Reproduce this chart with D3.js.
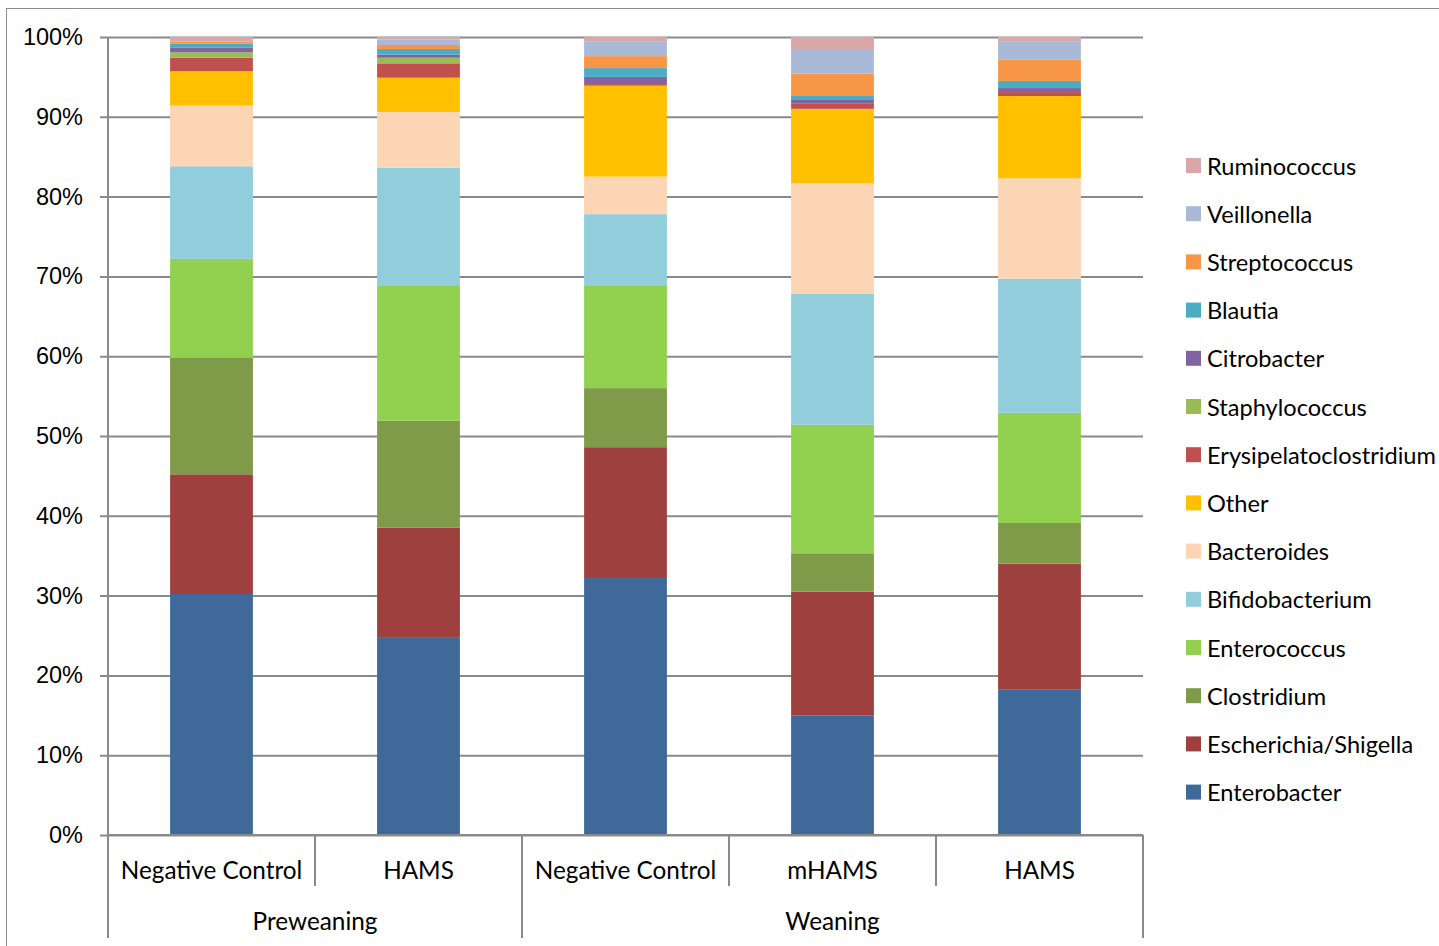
<!DOCTYPE html>
<html>
<head>
<meta charset="utf-8">
<script src="https://cdn.jsdelivr.net/npm/d3@7"></script>
<style>
  html, body { margin: 0; padding: 0; background: #fff; }
  svg { display: block; font-family: Lato, "Open Sans", "Liberation Sans", sans-serif; }
</style>
</head>
<body>
<svg id="chart" width="1439" height="946"></svg>
<script>
// Sample groups (outer) and diets (inner)
const groups = ["Preweaning", "Weaning"];
const categories = [
  { diet: "Negative Control", group: "Preweaning" },
  { diet: "HAMS", group: "Preweaning" },
  { diet: "Negative Control", group: "Weaning" },
  { diet: "mHAMS", group: "Weaning" },
  { diet: "HAMS", group: "Weaning" }
];

// Taxa, bottom of the stack first
const taxa = ["Enterobacter", "Escherichia/Shigella", "Clostridium", "Enterococcus",
  "Bifidobacterium", "Bacteroides", "Other", "Erysipelatoclostridium",
  "Staphylococcus", "Citrobacter", "Blautia", "Streptococcus", "Veillonella", "Ruminococcus"];

// Relative abundance (%) per taxon, one value per category
const enterobacter    = [30.2, 24.8, 32.2, 15.0, 18.2];
const escherichia     = [15.0, 13.7, 16.4, 15.5, 15.8];
const clostridium     = [14.6, 13.4, 7.4, 4.8, 5.1];
const enterococcus    = [12.4, 16.9, 12.8, 16.1, 13.8];
const bifidobacterium = [11.6, 14.8, 9.0, 16.4, 16.8];
const bacteroides     = [7.6, 7.0, 4.7, 13.9, 12.6];
const other           = [4.3, 4.3, 11.4, 9.3, 10.3];
const erysipelato     = [1.7, 1.8, 0.2, 0.7, 0.5];
const staphylococcus  = [0.7, 0.7, 0.0, 0.0, 0.0];
const citrobacter     = [0.6, 0.4, 0.9, 0.5, 0.5];
const blautia         = [0.5, 0.7, 1.1, 0.5, 0.9];
const streptococcus   = [0.2, 0.5, 1.5, 2.7, 2.7];
const veillonella     = [0.1, 0.7, 1.8, 3.1, 2.2];
const ruminococcus    = [0.5, 0.3, 0.6, 1.5, 0.6];

const seriesValues = [enterobacter, escherichia, clostridium, enterococcus, bifidobacterium,
  bacteroides, other, erysipelato, staphylococcus, citrobacter, blautia, streptococcus,
  veillonella, ruminococcus];

const colors = ["#3F6999", "#9E413E", "#7F9A48", "#92D050", "#92CDDC", "#FCD5B5", "#FFC000",
  "#C0504D", "#9BBB59", "#8064A2", "#4BACC6", "#F79646", "#A9B9D7", "#D9A7A7"];

const yTicks = [0, 10, 20, 30, 40, 50, 60, 70, 80, 90, 100];

// Build rows for d3.stack
const rows = categories.map((c, i) => {
  const r = { key: i };
  taxa.forEach((t, j) => { r[t] = seriesValues[j][i]; });
  return r;
});
const stacked = d3.stack().keys(taxa)(rows);

const svg = d3.select("#chart");
const plotLeft = 108, plotRight = 1143, plotTop = 37, plotBottom = 835;

const x = d3.scaleBand().domain(d3.range(categories.length)).range([plotLeft, plotRight]).paddingInner(0.6).paddingOuter(0.3);
const y = d3.scaleLinear().domain([0, 100]).range([plotBottom, plotTop]);
const color = d3.scaleOrdinal().domain(taxa).range(colors);

// Outer chart frame
svg.append("rect").attr("x", 6.5).attr("y", 8.5).attr("width", 1500).attr("height", 1000)
  .attr("fill", "none").attr("stroke", "#8c8c8c").attr("stroke-width", 1);

// Gridlines with ticks
const yAxis = d3.axisLeft(y).tickValues(yTicks).tickSize(plotRight - plotLeft + 8).tickFormat(d => d + "%");
const gy = svg.append("g").attr("transform", `translate(${plotRight},0)`).call(yAxis);
gy.select(".domain").remove();
gy.selectAll(".tick line").attr("stroke", "#8a8a8a").attr("stroke-width", 2);
gy.selectAll(".tick text").attr("font-size", 23.5).attr("fill", "#000").attr("x", -(plotRight - plotLeft) - 25);

// Vertical axis line
svg.append("line").attr("x1", plotLeft).attr("x2", plotLeft).attr("y1", plotTop).attr("y2", plotBottom)
  .attr("stroke", "#8a8a8a").attr("stroke-width", 2);

// Bars
svg.append("g").selectAll("g").data(stacked).join("g")
  .attr("fill", d => color(d.key))
  .selectAll("rect").data(d => d).join("rect")
  .attr("x", (d, i) => x(i))
  .attr("width", x.bandwidth())
  .attr("y", d => y(d[1]))
  .attr("height", d => Math.max(0, y(d[0]) - y(d[1])));

// Category axis: dividers and labels
const step = (plotRight - plotLeft) / categories.length;
const boundaries = d3.range(categories.length + 1).map(i => plotLeft + i * step);
const axisG = svg.append("g");
boundaries.forEach((bx, i) => {
  const isGroupEdge = i === 0 || i === categories.length ||
    categories[i - 1].group !== categories[i].group;
  axisG.append("line").attr("x1", bx).attr("x2", bx).attr("y1", plotBottom)
    .attr("y2", isGroupEdge ? 938 : 886).attr("stroke", "#8a8a8a").attr("stroke-width", 2);
});
axisG.append("line").attr("x1", plotLeft).attr("x2", plotRight).attr("y1", plotBottom).attr("y2", plotBottom)
  .attr("stroke", "#8a8a8a").attr("stroke-width", 2);

axisG.selectAll("text.cat").data(categories).join("text")
  .attr("class", "cat")
  .attr("x", (d, i) => x(i) + x.bandwidth() / 2)
  .attr("y", 879)
  .attr("text-anchor", "middle")
  .attr("font-size", 24.3)
  .text(d => d.diet);

groups.forEach(g => {
  const idx = categories.map((c, i) => c.group === g ? i : -1).filter(i => i >= 0);
  const x0 = plotLeft + idx[0] * step, x1 = plotLeft + (idx[idx.length - 1] + 1) * step;
  axisG.append("text").attr("x", (x0 + x1) / 2).attr("y", 930)
    .attr("text-anchor", "middle").attr("font-size", 24.3).text(g);
});

// Legend, top entry is the top of the stack
const legendItems = taxa.slice().reverse();
const lg = svg.append("g");
legendItems.forEach((t, i) => {
  const ly = 166 + i * 48.2;
  lg.append("rect").attr("x", 1186).attr("y", ly - 8).attr("width", 15).attr("height", 15).attr("fill", color(t));
  lg.append("text").attr("x", 1207).attr("y", ly + 8.5).attr("font-size", 23.6).text(t);
});
</script>
</body>
</html>
